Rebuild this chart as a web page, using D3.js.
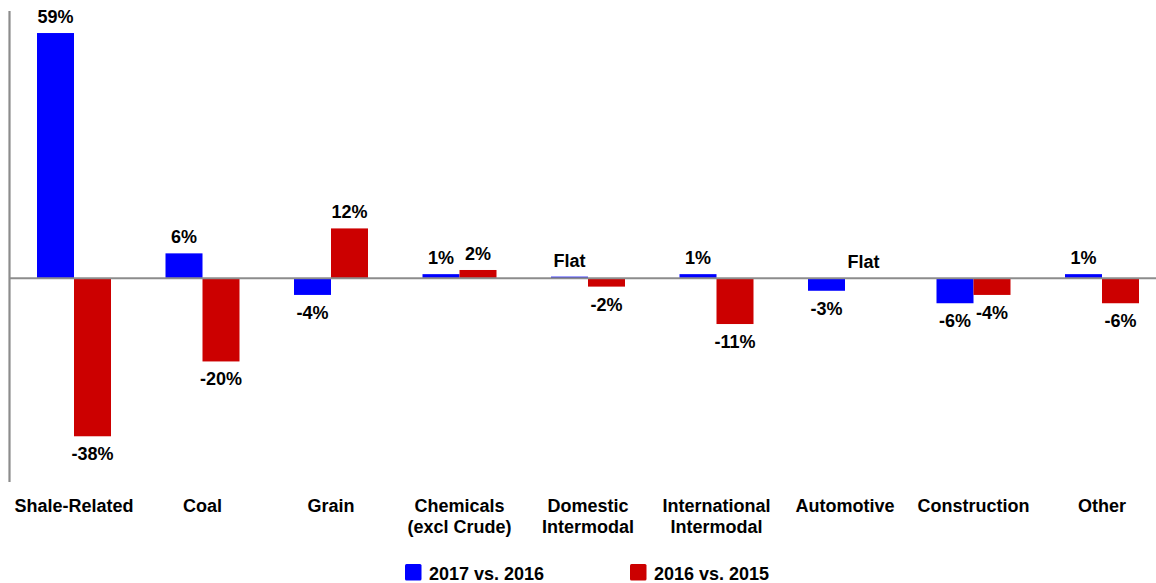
<!DOCTYPE html>
<html>
<head>
<meta charset="utf-8">
<script src="https://cdn.jsdelivr.net/npm/d3@7"></script>
<style>
  html, body { margin: 0; padding: 0; background: #fff; }
  svg { display: block; font-family: Arial, "Liberation Sans", sans-serif; }
</style>
</head>
<body>
<svg id="chart" width="1156" height="583"></svg>
<script>
// Carload volume change by commodity group
const categories = [
  ["Shale-Related"], ["Coal"], ["Grain"], ["Chemicals", "(excl Crude)"],
  ["Domestic", "Intermodal"], ["International", "Intermodal"],
  ["Automotive"], ["Construction"], ["Other"]
];
const seriesNames = ["2017 vs. 2016", "2016 vs. 2015"];
const values2017 = [59, 6, -4, 1, 0.4, 1, -3, -6, 1];
const values2016 = [-38, -20, 12, 2, -2, -11, 0, -4, -6];
const labels2017 = ["59%", "6%", "-4%", "1%", "Flat", "1%", "-3%", "-6%", "1%"];
const labels2016 = ["-38%", "-20%", "12%", "2%", "-2%", "-11%", "Flat", "-4%", "-6%"];
const colors = ["#0000ff", "#cc0000"];

const svg = d3.select("#chart");
const W = 1156;
const FS = "18px";

const x0 = d3.scaleBand()
  .domain(d3.range(categories.length))
  .range([9.75, 9.75 + 128.5 * categories.length])
  .padding(0);
const bw = x0.bandwidth();
const x1 = d3.scaleBand()
  .domain(seriesNames)
  .range([bw / 2 - 37, bw / 2 + 37]);

const y = d3.scaleLinear().domain([-49, 64.3]).range([482, 11]);

const rows = categories.map((c, i) => ({
  i,
  bars: [
    { s: seriesNames[0], v: values2017[i], label: labels2017[i], color: colors[0] },
    { s: seriesNames[1], v: values2016[i], label: labels2016[i], color: colors[1] }
  ]
}));

// vertical axis line
svg.append("line")
  .attr("x1", 9.5).attr("x2", 9.5)
  .attr("y1", y.range()[1]).attr("y2", y.range()[0])
  .attr("stroke", "#8c8c8c").attr("stroke-width", 2.2);

const groups = svg.selectAll("g.cat").data(rows).join("g")
  .attr("class", "cat")
  .attr("transform", d => `translate(${x0(d.i)},0)`);

groups.selectAll("rect").data(d => d.bars).join("rect")
  .attr("x", b => x1(b.s))
  .attr("width", x1.bandwidth())
  .attr("y", b => y(Math.max(0, b.v)))
  .attr("height", b => Math.abs(y(b.v) - y(0)))
  .attr("fill", b => b.color);

// zero line
svg.append("line")
  .attr("x1", 9).attr("x2", W)
  .attr("y1", y(0)).attr("y2", y(0))
  .attr("stroke", "#8c8c8c").attr("stroke-width", 2);

// value labels
groups.selectAll("text.val").data(d => d.bars).join("text")
  .attr("class", "val")
  .attr("x", b => x1(b.s) + x1.bandwidth() / 2)
  .attr("y", b => b.v >= 0 ? y(b.v) - 10 : y(b.v) + 24)
  .attr("text-anchor", "middle")
  .attr("font-size", FS)
  .attr("font-weight", "bold")
  .attr("fill", "#000")
  .text(b => b.label);

// category labels
groups.append("text")
  .attr("class", "cat-label")
  .attr("x", bw / 2)
  .attr("y", 512)
  .attr("text-anchor", "middle")
  .attr("font-size", FS)
  .attr("font-weight", "bold")
  .attr("fill", "#000")
  .selectAll("tspan").data(d => categories[d.i]).join("tspan")
  .attr("x", bw / 2)
  .attr("dy", (t, k) => k === 0 ? 0 : 21)
  .text(t => t);

// legend
const legendX = [405, 630];
const legend = svg.selectAll("g.legend").data(seriesNames).join("g")
  .attr("class", "legend")
  .attr("transform", (d, k) => `translate(${legendX[k]},564)`);
legend.append("rect")
  .attr("width", 16.5).attr("height", 16.5)
  .attr("rx", 1.5)
  .attr("fill", (d, k) => colors[k]);
legend.append("text")
  .attr("x", 24).attr("y", 16)
  .attr("font-size", FS)
  .attr("font-weight", "bold")
  .attr("fill", "#000")
  .text(d => d);
</script>
</body>
</html>
